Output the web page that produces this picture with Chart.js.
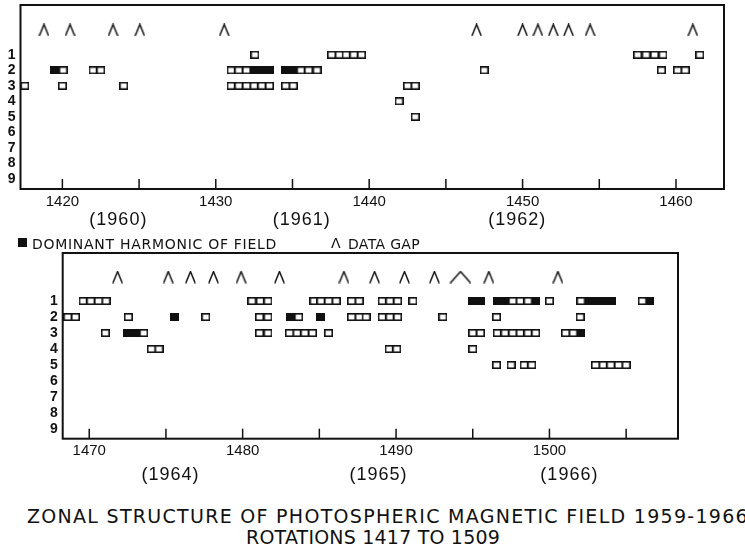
<!DOCTYPE html>
<html>
<head>
<meta charset="utf-8">
<script src="https://cdn.jsdelivr.net/npm/chart.js@4.4.0/dist/chart.umd.min.js"></script>
<style>
  body { margin: 0; background: #fff; width: 745px; height: 556px; overflow: hidden; position: relative; font-family: "DejaVu Sans", sans-serif; color: #111; }
  canvas { position: absolute; left: 0; }
  .txt { position: absolute; white-space: nowrap; line-height: 1; }
</style>
</head>
<body>
<canvas id="topChart" width="745" height="235" style="top:0"></canvas>
<canvas id="bottomChart" width="745" height="260" style="top:235px"></canvas>

<div style="position:absolute;left:18px;top:238px;width:9px;height:9px;background:#111"></div>
<div class="txt" id="legDom" style="left:32px;top:237px;font-size:14px">DOMINANT HARMONIC OF FIELD</div>
<div class="txt" id="legCaret" style="left:331px;top:236px;font-size:14px">Λ</div>
<div class="txt" id="legGap" style="left:348px;top:237px;font-size:14px">DATA GAP</div>

<div class="txt" id="title1" style="left:27px;top:507px;font-size:19px">ZONAL STRUCTURE OF PHOTOSPHERIC MAGNETIC FIELD 1959-1966</div>
<div class="txt" id="title2" style="left:246px;top:528px;font-size:19px">ROTATIONS 1417 TO 1509</div>

<script>
// harmonic rows on the y axis
const rowLabels = [1, 2, 3, 4, 5, 6, 7, 8, 9];

// ---- 1959-1962 panel: [rotation, harmonic] ----
const topTicks = [1420, 1425, 1430, 1435, 1440, 1445, 1450, 1455, 1460];
const topYears = ["(1960)", "(1961)", "(1962)"];
const topYearPos = [1423.65, 1435.6, 1449.65];
const topGaps = [1418.8, 1420.5, 1423.3, 1425.05, 1430.55, 1447.0, 1450.0, 1451.0, 1452.0, 1453.0, 1454.4, 1461.1];
const topOpen = [
  [1432.55, 1], [1437.55, 1], [1438.05, 1], [1438.5, 1], [1439.0, 1], [1439.5, 1],
  [1457.5, 1], [1458.05, 1], [1458.6, 1], [1459.15, 1], [1461.55, 1],
  [1420.05, 2], [1422.0, 2], [1422.5, 2], [1431.0, 2], [1431.5, 2], [1432.0, 2],
  [1435.55, 2], [1436.05, 2], [1436.6, 2], [1447.5, 2], [1459.05, 2], [1460.1, 2], [1460.6, 2],
  [1417.55, 3], [1420.0, 3], [1424.0, 3], [1431.0, 3], [1431.5, 3], [1432.0, 3],
  [1432.5, 3], [1433.0, 3], [1433.5, 3], [1434.55, 3], [1435.05, 3], [1442.5, 3], [1443.0, 3],
  [1441.95, 4],
  [1443.0, 5]
];
const topFilled = [
  [1419.5, 2], [1432.5, 2], [1433.0, 2], [1433.5, 2], [1434.55, 2], [1435.05, 2]
];

// ---- 1964-1966 panel ----
const bottomTicks = [1470, 1475, 1480, 1485, 1490, 1495, 1500, 1505];
const bottomYears = ["(1964)", "(1965)", "(1966)"];
const bottomYearPos = [1475.3, 1488.85, 1501.3];
const bottomGaps = [1471.85, 1475.15, 1476.6, 1478.1, 1479.9, 1482.4, 1486.6, 1488.6, 1490.55, 1492.5, 1496.05, 1500.55];
const bottomWideGaps = [1494.2];
const bottomOpen = [
  [1469.6, 1], [1470.1, 1], [1470.6, 1], [1471.1, 1], [1480.6, 1], [1481.15, 1], [1481.65, 1],
  [1484.65, 1], [1485.1, 1], [1485.6, 1], [1486.1, 1], [1487.1, 1], [1487.6, 1],
  [1489.1, 1], [1489.6, 1], [1490.1, 1], [1491.1, 1], [1497.6, 1], [1498.1, 1], [1498.6, 1],
  [1500.0, 1], [1502.05, 1], [1506.05, 1],
  [1468.6, 2], [1469.1, 2], [1472.55, 2], [1477.6, 2], [1481.1, 2], [1481.65, 2], [1483.65, 2],
  [1487.1, 2], [1487.6, 2], [1488.05, 2], [1489.1, 2], [1489.6, 2], [1490.1, 2],
  [1493.05, 2], [1496.55, 2], [1502.0, 2],
  [1471.05, 3], [1473.55, 3], [1481.1, 3], [1481.65, 3], [1483.05, 3], [1483.55, 3],
  [1484.05, 3], [1484.55, 3], [1485.6, 3], [1495.0, 3], [1495.5, 3], [1496.6, 3], [1497.1, 3],
  [1497.6, 3], [1498.1, 3], [1498.6, 3], [1499.1, 3], [1501.05, 3], [1501.55, 3],
  [1474.05, 4], [1474.55, 4], [1489.55, 4], [1490.05, 4], [1495.0, 4],
  [1496.55, 5], [1497.5, 5], [1498.35, 5], [1498.85, 5], [1503.0, 5], [1503.5, 5],
  [1504.0, 5], [1504.5, 5], [1505.0, 5]
];
const bottomFilled = [
  [1495.0, 1], [1495.5, 1], [1496.6, 1], [1497.1, 1], [1499.1, 1],
  [1502.55, 1], [1503.05, 1], [1503.55, 1], [1504.05, 1], [1506.55, 1],
  [1475.55, 2], [1483.1, 2], [1485.1, 2],
  [1472.5, 3], [1473.0, 3], [1502.05, 3]
];

const INK = "#111";
Chart.defaults.color = INK;
Chart.defaults.font.family = "'Liberation Sans', sans-serif";

// small "Λ" marks used for data gaps
function makeCaret(w, h) {
  const c = document.createElement("canvas");
  c.width = w; c.height = h;
  const g = c.getContext("2d");
  g.strokeStyle = INK; g.lineWidth = 1.5;
  g.beginPath();
  g.moveTo(0.8, h - 0.5); g.lineTo(w / 2, 1); g.lineTo(w - 0.8, h - 0.5);
  g.stroke();
  return c;
}
// one cell of a harmonic run, open or filled
function makeBox(fill) {
  const c = document.createElement("canvas");
  c.width = 9; c.height = 8;
  const g = c.getContext("2d");
  g.fillStyle = fill;
  g.fillRect(0, 0, 9, 8);
  g.strokeStyle = INK; g.lineWidth = 1.6;
  g.strokeRect(0.8, 0.8, 7.4, 6.4);
  return c;
}
const caret = makeCaret(11, 13);
const wideCaret = makeCaret(22, 13);
const openBox = makeBox("#fff");
const filledBox = makeBox(INK);

// frame, inward tick marks and the year labels under the axis
const framePlugin = {
  id: "frame",
  afterDraw(chart, args, opts) {
    const { ctx, chartArea: a } = chart;
    const xs = chart.scales.x;
    ctx.save();
    ctx.strokeStyle = INK;
    ctx.lineWidth = 2;
    ctx.strokeRect(a.left, a.top, a.right - a.left, a.bottom - a.top);
    ctx.lineWidth = 1.5;
    opts.ticks.forEach((v) => {
      const x = xs.getPixelForValue(v);
      ctx.beginPath();
      ctx.moveTo(x, a.bottom);
      ctx.lineTo(x, a.bottom - 10);
      ctx.stroke();
    });
    ctx.fillStyle = INK;
    ctx.font = "18px 'Liberation Sans', sans-serif";
    ctx.letterSpacing = "1px";
    ctx.textAlign = "center";
    ctx.textBaseline = "middle";
    opts.years.forEach((t, i) => {
      ctx.fillText(t, xs.getPixelForValue(opts.yearPos[i]), a.bottom + opts.yearOffset);
    });
    ctx.restore();
  },
};

function markSet(points, img) {
  return {
    data: points.map(([x, y]) => ({ x: x, y: y })),
    pointStyle: img,
    clip: false,
  };
}

function drawPanel(id, p) {
  const ctx = document.getElementById(id).getContext("2d");
  const datasets = [
    markSet(p.open, openBox),
    markSet(p.filled, filledBox),
    markSet(p.gaps.map((x) => [x, p.caretRow]), caret),
  ];
  if (p.wideGaps) datasets.push(markSet(p.wideGaps.map((x) => [x, p.caretRow]), wideCaret));

  new Chart(ctx, {
    type: "scatter",
    data: { datasets: datasets },
    plugins: [framePlugin],
    options: {
      responsive: false,
      animation: false,
      devicePixelRatio: 1,
      layout: { padding: p.padding },
      plugins: {
        legend: { display: false },
        tooltip: { enabled: false },
        frame: { ticks: p.ticks, years: p.years, yearPos: p.yearPos, yearOffset: p.yearOffset },
      },
      scales: {
        x: {
          type: "linear",
          min: p.xMin,
          max: p.xMax,
          grid: { display: false, drawTicks: false },
          border: { display: false },
          afterBuildTicks: (s) => { s.ticks = p.ticks.map((v) => ({ value: v })); },
          afterFit: (s) => {
            s.height = p.xAxisHeight;
            s.paddingLeft = 0; s.paddingRight = 0;
          },
          ticks: {
            autoSkip: false,
            maxRotation: 0,
            padding: p.xPad,
            font: { size: 15 },
            callback: (v) => (v % 10 === 0 ? String(v) : ""),
          },
        },
        y: {
          type: "linear",
          reverse: true,
          min: p.yMin,
          max: p.yMax,
          grid: { display: false, drawTicks: false },
          border: { display: false },
          afterBuildTicks: (s) => { s.ticks = rowLabels.map((v) => ({ value: v })); },
          afterFit: (s) => {
            s.width = p.yAxisWidth;
            s.paddingTop = 0; s.paddingBottom = 0;
          },
          ticks: { padding: 5, font: { size: 14, weight: "bold" } },
        },
      },
    },
  });
}

drawPanel("topChart", {
  open: topOpen, filled: topFilled, gaps: topGaps, caretRow: -0.6,
  ticks: topTicks, years: topYears, yearPos: topYearPos, yearOffset: 31,
  xMin: 1417.27, xMax: 1463.13, yMin: -2.21, yMax: 9.66,
  padding: { left: 0, right: 21, top: 5, bottom: 0 },
  yAxisWidth: 20.5, xAxisHeight: 46, xPad: 4,
});

drawPanel("bottomChart", {
  open: bottomOpen, filled: bottomFilled, gaps: bottomGaps, wideGaps: bottomWideGaps, caretRow: -0.5,
  ticks: bottomTicks, years: bottomYears, yearPos: bottomYearPos, yearOffset: 36,
  xMin: 1468.27, xMax: 1508.38, yMin: -2.0, yMax: 9.6,
  padding: { left: 0, right: 67, top: 18, bottom: 0 },
  yAxisWidth: 62.7, xAxisHeight: 56.3, xPad: 3,
});

// stretch the lettering to the widths it has in the figure
function fitText(id, width) {
  const el = document.getElementById(id);
  const n = el.textContent.length;
  const w = el.getBoundingClientRect().width;
  el.style.letterSpacing = (width - w) / n + "px";
}
fitText("legDom", 245);
fitText("legGap", 72);
fitText("title1", 722);
fitText("title2", 254);
</script>
</body>
</html>
